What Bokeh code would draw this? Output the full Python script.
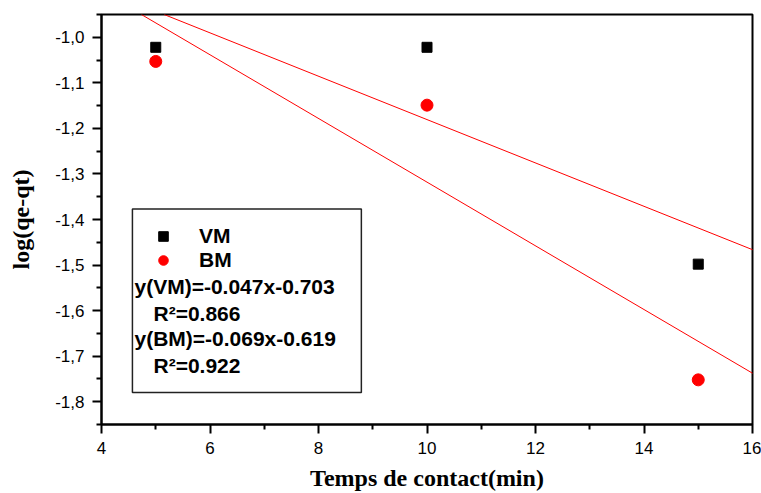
import numpy as np
from bokeh.plotting import figure
from bokeh.models import (Range1d, FixedTicker, CustomJSTickFormatter, Slope,
                          Legend, LegendItem, BoxAnnotation, Label)
from bokeh.embed import file_html
from bokeh.resources import INLINE

# ---- data ----
time_min = [5, 10, 15]
vm_log = [-1.022, -1.022, -1.498]
bm_log = [-1.053, -1.149, -1.752]
series_names = ["VM", "BM"]
x_ticks = [4, 6, 8, 10, 12, 14, 16]
x_minor = [5, 7, 9, 11, 13, 15]
y_ticks = [-1.8, -1.7, -1.6, -1.5, -1.4, -1.3, -1.2, -1.1, -1.0]
y_minor = [-1.85, -1.75, -1.65, -1.55, -1.45, -1.35, -1.25, -1.15, -1.05, -0.95]
eq_texts = ["y(VM)=-0.047x-0.703", "R\u00b2=0.866", "y(BM)=-0.069x-0.619", "R\u00b2=0.922"]

# ---- figure ----
p = figure(width=761, height=493, x_range=Range1d(4, 16), y_range=Range1d(-1.85, -0.95),
           output_backend="svg", toolbar_location=None,
           min_border_left=101, min_border_right=9, min_border_top=14, min_border_bottom=69)
p.xgrid.visible = False
p.ygrid.visible = False
p.outline_line_color = "black"
p.outline_line_width = 2
p.outline_line_alpha = 1
p.background_fill_color = "white"
p.border_fill_color = "white"

for ax in (p.xaxis[0], p.yaxis[0]):
    ax.axis_line_width = 2
    ax.axis_line_color = "black"
    ax.major_tick_out = 9
    ax.major_tick_in = 0
    ax.minor_tick_out = 5
    ax.minor_tick_in = 0
    ax.major_tick_line_width = 2
    ax.minor_tick_line_width = 2
    ax.major_tick_line_color = "black"
    ax.minor_tick_line_color = "black"
    ax.major_label_text_font = "Liberation Sans"
    ax.major_label_text_font_size = "17px"
    ax.major_label_text_color = "black"
    ax.major_label_standoff = 8
    ax.axis_label_text_font = "Liberation Serif"
    ax.axis_label_text_font_style = "bold"
    ax.axis_label_text_font_size = "24px"
    ax.axis_label_text_color = "black"

p.xaxis.ticker = FixedTicker(ticks=x_ticks, minor_ticks=x_minor)
p.yaxis.ticker = FixedTicker(ticks=y_ticks, minor_ticks=y_minor)
p.xaxis.formatter = CustomJSTickFormatter(code="return tick.toFixed(0);")
p.yaxis.formatter = CustomJSTickFormatter(code="return tick.toFixed(1).replace('.', ',');")
p.xaxis.axis_label = "Temps de contact(min)"
p.yaxis.axis_label = "log(qe-qt)"
p.xaxis.axis_label_standoff = 8
p.yaxis.axis_label_standoff = 18

# ---- fitted lines (linear regression from the data) ----
for ys in (vm_log, bm_log):
    k, b = np.polyfit(time_min, ys, 1)
    p.add_layout(Slope(gradient=float(k), y_intercept=float(b), line_color="red", line_width=1))

# ---- points ----
r_vm = p.scatter(time_min, vm_log, marker="square", size=10, color="black")
r_bm = p.scatter(time_min, bm_log, marker="circle", size=12, color="red")

# ---- legend box ----
p.add_layout(BoxAnnotation(left=4.57, right=8.79, top=-1.377, bottom=-1.78,
                           fill_alpha=0, line_color="#222222", line_alpha=1, line_width=1.5))

legend = Legend(items=[LegendItem(label=series_names[0], renderers=[r_vm]),
                       LegendItem(label=series_names[1], renderers=[r_bm])],
                location=(47, 152), padding=0, spacing=0, margin=0,
                glyph_width=30, glyph_height=24, label_height=24, label_standoff=21,
                label_text_font="Liberation Sans", label_text_font_style="bold",
                label_text_font_size="21px", label_text_color="black",
                border_line_alpha=0, background_fill_alpha=0)
p.add_layout(legend)

eq_pos = [(4.608, -1.5476), (4.958, -1.6068), (4.608, -1.6616), (4.958, -1.7208)]
for (lx, ly), t in zip(eq_pos, eq_texts):
    p.add_layout(Label(x=lx, y=ly, text=t, text_baseline="middle", text_align="left",
                       text_font="Liberation Sans", text_font_style="bold",
                       text_font_size="21px", text_color="black"))

open("out.html", "w").write(file_html(p, INLINE))
